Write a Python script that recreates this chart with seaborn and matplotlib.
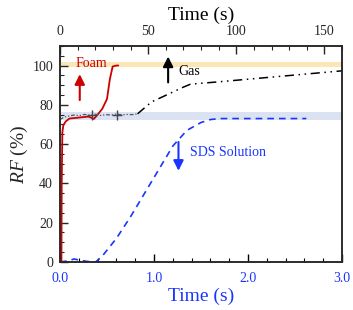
"""
plot.py

Recovery factor vs time for foam, gas and SDS solution
"""

import numpy as np
import pandas as pd
import matplotlib
matplotlib.use("Agg")
import matplotlib.pyplot as plt
import seaborn as sns
from matplotlib.ticker import MultipleLocator

sns.set_style("ticks")
plt.rcParams['font.family'] = ['Liberation Serif', 'DejaVu Serif']
plt.rcParams['mathtext.fontset'] = 'custom'
plt.rcParams['mathtext.it'] = 'Liberation Serif:italic'
plt.rcParams['mathtext.rm'] = 'Liberation Serif'

# data -- foam & SDS on bottom axis (s), gas on top axis (s)
foam_t = [0.015, 0.018, 0.025, 0.035, 0.06, 0.1, 0.2, 0.3, 0.33, 0.36, 0.4, 0.45, 0.5, 0.53, 0.56, 0.6, 0.62]
foam_rf = [0, 40, 66, 69.5, 71.5, 73, 73.5, 74, 73.5, 72.8, 75, 78, 83, 93, 99.5, 100, 100]

sds_t = [0, 0.08, 0.15, 0.22, 0.3, 0.38, 0.45, 0.6, 0.75, 0.9, 1.05, 1.2, 1.35, 1.5, 1.6, 1.7, 2.0, 2.3, 2.62]
sds_rf = [0, 0.5, 1.5, 0.8, 0.2, 0, 3, 12, 23, 35, 47, 59, 67, 71, 72.5, 73, 73, 73, 73]

gas_early_t = [0, 2, 5, 8, 11, 14, 17, 20, 23, 26, 29, 32, 35, 38, 41, 44]
gas_early_rf = [72.5, 73.6, 74.3, 74.8, 74.5, 75.1, 74.7, 75.2, 74.6, 75.0, 74.8, 75.3, 74.9, 75.1, 75.0, 75.4]
gas_t = [44, 48, 52, 58, 64, 70, 74, 90, 110, 130, 150, 160]
gas_rf = [75.4, 78.5, 81.5, 84, 86.5, 89, 90.5, 91.7, 93.3, 94.9, 96.5, 97.3]
gas_err_t = [18, 32.5]
gas_err_rf = [75, 75]

red = "#cc0000"
blue = "#1a35ff"

fig = plt.figure(figsize=(3.53, 3.10), dpi=100)
ax = fig.add_axes([0.170, 0.155, 0.799, 0.697])
ax2 = ax.twiny()

# shaded bands
ax.axhspan(99, 102, color="#fbe6b8", lw=0, zorder=0)
ax.axhspan(72.3, 76.4, color="#dbe2f1", lw=0, zorder=0)

sns.lineplot(x=foam_t, y=foam_rf, ax=ax, color=red, lw=1.3, sort=False, estimator=None)
sns.lineplot(x=sds_t, y=sds_rf, ax=ax, color=blue, lw=1.2, sort=False, estimator=None,
             linestyle=(0, (4, 3)))

sns.lineplot(x=gas_early_t, y=gas_early_rf, ax=ax2, color="#555560", lw=0.9, sort=False,
             estimator=None, linestyle=(0, (3, 1.5, 1, 1.5, 1, 1.5)))
sns.lineplot(x=gas_t, y=gas_rf, ax=ax2, color="black", lw=1.1, sort=False, estimator=None,
             linestyle=(0, (6, 3, 1, 3, 1, 3)))
sns.scatterplot(x=gas_err_t, y=gas_err_rf, ax=ax2, marker="+", s=60, color="#444450", linewidth=1)

ax.set_xlim(0, 3)
ax.set_ylim(0, 110)
ax2.set_xlim(0, 160)

ax.xaxis.set_major_locator(MultipleLocator(1.0))
ax.xaxis.set_minor_locator(MultipleLocator(0.2))
ax.yaxis.set_major_locator(MultipleLocator(20))
ax.yaxis.set_minor_locator(MultipleLocator(5))
ax2.xaxis.set_major_locator(MultipleLocator(50))
ax2.xaxis.set_minor_locator(MultipleLocator(10))
ax.set_xticks([0, 1, 2, 3])
ax.set_xticklabels(["0.0", "1.0", "2.0", "3.0"])

ax.tick_params(axis="x", which="both", direction="in", top=False, colors="black",
               labelcolor=blue, labelsize=10, pad=7)
ax.tick_params(axis="x", which="major", length=6, width=1)
ax.tick_params(axis="x", which="minor", length=3, width=0.8)
ax.tick_params(axis="y", which="both", direction="in", right=False, labelsize=10, pad=5)
ax.tick_params(axis="y", which="major", length=6, width=1)
ax.tick_params(axis="y", which="minor", length=3, width=0.8)
ax2.tick_params(axis="x", which="both", direction="in", labelsize=10, pad=6)
ax2.tick_params(axis="x", which="major", length=6, width=1)
ax2.tick_params(axis="x", which="minor", length=3, width=0.8)

for a in (ax, ax2):
    for s in a.spines.values():
        s.set_linewidth(1.1)
        s.set_visible(True)

ax.set_xlabel("Time (s)", fontsize=14, color=blue, labelpad=2)
ax2.set_xlabel("Time (s)", fontsize=14, color="black", labelpad=3)
ax.set_ylabel("$\\mathit{RF}$ (%)", fontsize=14, labelpad=2)

# arrows & labels
ax.annotate("", xy=(0.21, 97), xytext=(0.21, 81),
            arrowprops=dict(arrowstyle="-|>,head_width=0.3,head_length=0.6", color=red, lw=1.5))
ax.text(0.17, 101, "Foam", color=red, fontsize=10, va="center")
ax.annotate("", xy=(1.15, 106), xytext=(1.15, 90),
            arrowprops=dict(arrowstyle="-|>,head_width=0.3,head_length=0.6", color="black", lw=1.5))
ax.text(1.26, 97, "Gas", color="black", fontsize=10, va="center")
ax.annotate("", xy=(1.26, 45), xytext=(1.26, 62.5),
            arrowprops=dict(arrowstyle="-|>,head_width=0.3,head_length=0.6", color=blue, lw=1.5))
ax.text(1.38, 55.5, "SDS Solution", color=blue, fontsize=10, va="center")

fig.savefig("out.png", dpi=100)
